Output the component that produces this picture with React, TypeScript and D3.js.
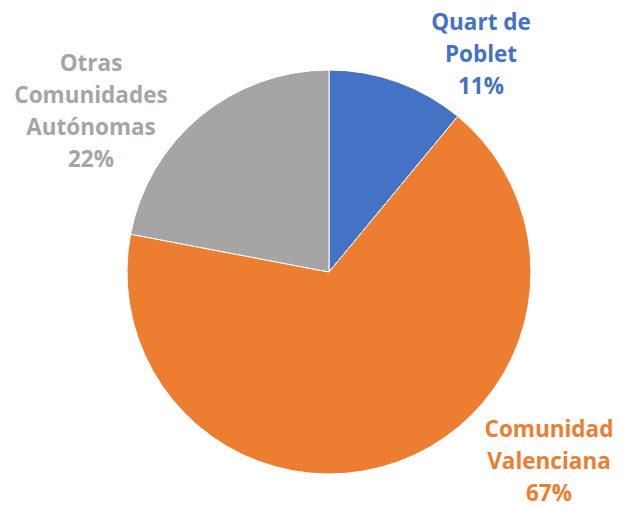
import * as d3 from "d3";

const categories = ["Quart de Poblet", "Comunidad Valenciana", "Otras Comunidades Autónomas"];
const values = [11, 67, 22];
const colors = ["#4472C4", "#ED7D31", "#A5A5A5"];
// label lines per slice, and where each block is centred
const labelLines = [
  ["Quart de", "Poblet", "11%"],
  ["Comunidad", "Valenciana", "67%"],
  ["Otras", "Comunidades", "Autónomas", "22%"],
];
const labelPos = [
  [481, 30],
  [549, 437],
  [91, 71],
];

const width = 627;
const height = 508;
const cx = 329;
const cy = 272;
const radius = 202;
const lineH = 32;

export default function App() {
  const pie = d3.pie<number>().sort(null).value((d) => d);
  const arcs = pie(values);
  const arc = d3.arc<d3.PieArcDatum<number>>().innerRadius(0).outerRadius(radius);
  return (
    <svg width={width} height={height} style={{ position: "absolute", left: 0, top: 0 }}>
      <rect width={width} height={height} fill="#fff" />
      <g transform={`translate(${cx},${cy})`}>
        {arcs.map((a, i) => (
          <path key={categories[i]} d={arc(a) ?? ""} fill={colors[i]} stroke="#fff" strokeWidth={1} />
        ))}
      </g>
      <g fontFamily="'Open Sans', sans-serif" fontWeight="bold" fontSize={22.5} textAnchor="middle">
        {labelLines.map((lines, i) => (
          <text key={i} fill={colors[i]}>
            {lines.map((t, j) => (
              <tspan key={j} x={labelPos[i][0]} y={labelPos[i][1] + j * lineH}>
                {t}
              </tspan>
            ))}
          </text>
        ))}
      </g>
    </svg>
  );
}
